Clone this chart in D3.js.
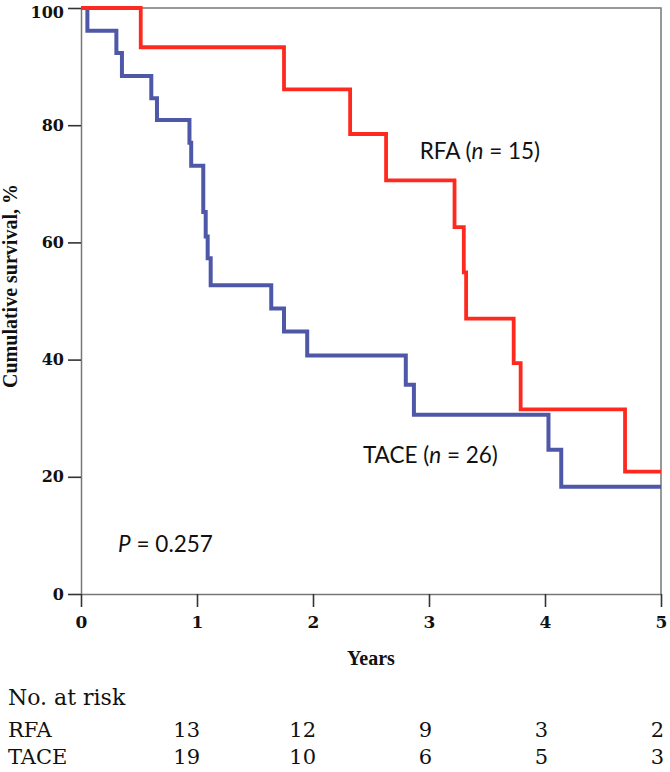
<!DOCTYPE html>
<html><head><meta charset="utf-8">
<script src="https://cdn.jsdelivr.net/npm/d3@7"></script>
<style>body{margin:0;background:#fff}</style>
</head><body><svg id="c" width="670" height="772"></svg>
<script>
// ---- data ----
const rfaTimes = [0, 0.515, 1.75, 2.32, 2.63, 3.22, 3.30, 3.32, 3.73, 3.79, 4.69, 5];
const rfaSurv  = [100, 93.3, 86.1, 78.5, 70.6, 62.6, 54.9, 47.0, 39.4, 31.5, 20.9, 20.9];
const taceTimes = [0, 0.055, 0.305, 0.353, 0.606, 0.655, 0.935, 0.95, 1.054, 1.075, 1.092, 1.118, 1.64, 1.75, 1.95, 2.80, 2.87, 4.03, 4.14, 5];
const taceSurv  = [100, 96.1, 92.3, 88.4, 84.6, 80.9, 77.0, 73.1, 65.2, 61.0, 57.3, 52.7, 48.7, 44.8, 40.7, 35.7, 30.6, 24.6, 18.3, 18.3];
const xTicks = [0, 1, 2, 3, 4, 5];
const yTicks = [0, 20, 40, 60, 80, 100];
const riskYears = [1, 2, 3, 4, 5];
const riskRFA = [13, 12, 9, 3, 2];
const riskTACE = [19, 10, 6, 5, 3];
const groups = ["RFA", "TACE"];
const groupN = [15, 26];
const pValue = "0.257";

// ---- drawing ----
const svg = d3.select("#c");
const x = d3.scaleLinear().domain([0, 5]).range([81, 661]);
const y = d3.scaleLinear().domain([0, 100]).range([594, 8]);
const axisGray = "#777";

// frame (top & right)
svg.append("path")
  .attr("d", `M${x(0)},${y(100)}H${x(5)}V${y(0)}`)
  .attr("fill", "none").attr("stroke", axisGray).attr("stroke-width", 1.5);

// y axis
const gy = svg.append("g").attr("transform", `translate(${x(0)},0)`)
  .call(d3.axisLeft(y).tickValues(yTicks).tickSize(13).tickSizeOuter(0).tickPadding(4));
gy.select(".domain").attr("stroke", axisGray).attr("stroke-width", 1.5);
gy.selectAll(".tick line").attr("stroke", "#333").attr("stroke-width", 1.6);
gy.selectAll(".tick text").attr("font-family", "DejaVu Serif").attr("font-weight", "bold")
  .attr("font-size", 16).attr("fill", "#111");
gy.selectAll(".tick text").filter(d => d === 100).attr("dy", "0.62em");

// x axis
const gx = svg.append("g").attr("transform", `translate(0,${y(0)})`)
  .call(d3.axisBottom(x).tickValues(xTicks).tickSize(13).tickSizeOuter(0).tickPadding(9).tickFormat(d3.format("d")));
gx.select(".domain").attr("stroke", axisGray).attr("stroke-width", 1.5);
gx.selectAll(".tick line").attr("stroke", "#333").attr("stroke-width", 1.6);
gx.selectAll(".tick text").attr("font-family", "DejaVu Serif").attr("font-weight", "bold")
  .attr("font-size", 17).attr("fill", "#111");

// axis titles
svg.append("text").attr("transform", `translate(17,${(y(0) + y(100)) / 2 - 15}) rotate(-90)`)
  .attr("text-anchor", "middle").attr("font-family", "Liberation Serif").attr("font-weight", "bold")
  .attr("font-size", 20).attr("fill", "#111").text("Cumulative survival, %");
svg.append("text").attr("x", (x(0) + x(5)) / 2).attr("y", 665)
  .attr("text-anchor", "middle").attr("font-family", "Liberation Serif").attr("font-weight", "bold")
  .attr("font-size", 20).attr("fill", "#111").text("Years");

// curves
const line = d3.line().x(d => x(d[0])).y(d => y(d[1])).curve(d3.curveStepAfter);
const series = [
  {times: taceTimes, surv: taceSurv, color: "#4f58a8", w: 4},
  {times: rfaTimes, surv: rfaSurv, color: "#ff2a1f", w: 3.8}
];
svg.selectAll("path.km").data(series).join("path").attr("class", "km")
  .attr("d", s => line(s.times.map((t, i) => [t, s.surv[i]])))
  .attr("fill", "none").attr("stroke", s => s.color).attr("stroke-width", s => s.w)
  .attr("stroke-linejoin", "miter");

// curve labels
function label(xp, yp, name, n) {
  const t = svg.append("text").attr("x", xp).attr("y", yp)
    .attr("font-family", "Lato").attr("font-size", 22.5).attr("fill", "#111");
  t.append("tspan").text(name + " (");
  t.append("tspan").attr("font-style", "italic").text("n");
  t.append("tspan").text(" = " + n + ")");
}
label(x(2.92), y(74.2), groups[0], groupN[0]);
label(x(2.43), y(22.4), groups[1], groupN[1]);

const pt = svg.append("text").attr("x", x(0.32)).attr("y", y(7.2))
  .attr("font-family", "Lato").attr("font-size", 22.5).attr("fill", "#111");
pt.append("tspan").attr("font-style", "italic").text("P");
pt.append("tspan").text(" = " + pValue);

// risk table
const rf = "DejaVu Serif";
svg.append("text").attr("x", 8).attr("y", 705).attr("font-family", rf).attr("font-size", 22)
  .attr("fill", "#111").text("No. at risk");
const rows = [{name: groups[0], vals: riskRFA, yb: 737}, {name: groups[1], vals: riskTACE, yb: 764}];
rows.forEach(r => {
  svg.append("text").attr("x", 8).attr("y", r.yb).attr("font-family", rf).attr("font-size", 21)
    .attr("fill", "#111").text(r.name);
  svg.selectAll(null).data(r.vals).join("text")
    .attr("x", (d, i) => x(riskYears[i]) + 3).attr("y", r.yb)
    .attr("text-anchor", "end").attr("font-family", rf).attr("font-size", 21)
    .attr("fill", "#111").text(d => d);
});
</script>
</body></html>
